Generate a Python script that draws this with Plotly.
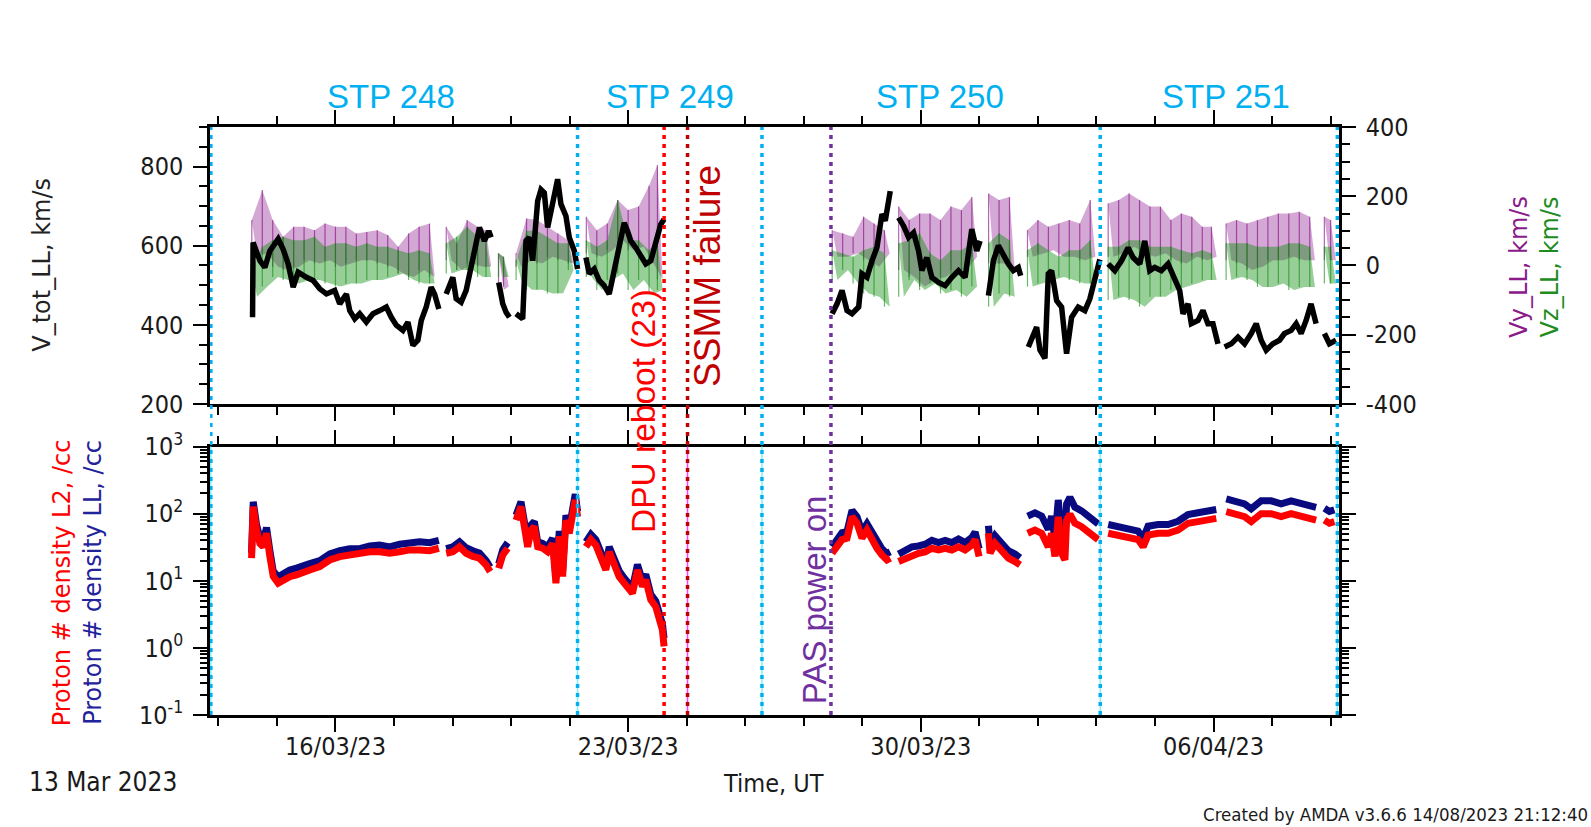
import pandas as pd
import plotly.graph_objects as go

BASE = pd.Timestamp("2023-03-13 00:00:00")
X_START, X_END = "2023-03-13 00:00", "2023-04-09 00:00"

# ---------------- data (times in days since 13 Mar 2023 00:00 UT; None = gap) ----------------
vtot_days = [1.018, 1.03, 1.193, 1.313, 1.432, 1.631, 1.750, 1.869, 1.989, 2.108, 2.307, 2.466, 2.625, 2.784,
             2.983, 3.103, 3.262, 3.341, 3.461, 3.580, 3.739, 3.898, 4.057, 4.216, 4.336, 4.455, 4.614, 4.733,
             4.853, 4.972, 5.052, 5.171, 5.290, 5.370, 5.473, None,
             5.648, 5.807, 5.887, 6.006, 6.126, 6.205, 6.325, 6.444, 6.563, 6.667, 6.722, None,
             6.905, 7.001, 7.080, 7.160, None,
             7.319, 7.478, 7.558, 7.637, 7.717, 7.836, 7.916, 7.995, 8.075, 8.194, 8.313, 8.393, 8.512, 8.592,
             8.711, 8.791, None,
             8.990, 9.069, 9.189, 9.308, 9.427, 9.547, 9.666, 9.785, 9.905, 9.984, 10.064, 10.183, 10.302,
             10.422, 10.541, 10.660, 10.780, 10.859, None,
             14.877, 14.996, 15.115, 15.234, 15.354, 15.513, 15.592, 15.712, 15.831, 15.950, 16.069, 16.149,
             16.268, None,
             16.467, 16.587, 16.706, 16.826, 16.945, 17.025, 17.144, 17.263, 17.422, 17.582, 17.741, 17.900,
             18.059, 18.218, 18.337, 18.417, None,
             18.616, 18.735, 18.854, 18.974, 19.093, 19.212, 19.332, 19.387, None,
             19.570, 19.690, 19.769, 19.849, 19.968, 20.048, 20.127, 20.247, 20.366, 20.485, 20.605, 20.764,
             20.923, 21.043, 21.162, 21.28, None,
             21.480, 21.639, 21.798, 21.957, 22.076, 22.235, 22.355, 22.474, 22.593, 22.753, 22.912, 23.071,
             23.190, 23.270, 23.389, 23.469, 23.628, 23.747, 23.866, 23.986, 24.105, None,
             24.264, 24.424, 24.583, 24.742, 24.901, 25.020, 25.139, 25.259, 25.418, 25.577, 25.696, 25.855,
             25.975, 26.094, 26.213, 26.332, 26.452, None,
             26.651, 26.770, 26.929]
vtot_vals = [419, 608, 562, 545, 587, 617, 591, 554, 495, 533, 520, 512, 491, 478,
             487, 453, 478, 436, 415, 428, 407, 428, 436, 445, 419, 399, 386, 407,
             348, 361, 411, 445, 495, 478, 440, None,
             478, 520, 466, 457, 487, 529, 587, 646, 612, 637, 621, None,
             507, 453, 432, 419, None,
             428, 415, 612, 621, 562, 713, 742, 734, 646, 705, 768, 705, 675, 621,
             587, 541, None,
             570, 529, 541, 512, 499, 478, 537, 595, 658, 637, 612, 595, 575,
             554, 562, 604, 654, 667, None,
             428, 453, 487, 436, 428, 445, 529, 520, 562, 595, 680, 663,
             738, None,
             671, 650, 621, 633, 587, 537, 570, 520, 507, 499, 520, 537,
             520, 642, 587, 612, None,
             474, 562, 600, 575, 554, 537, 545, 524, None,
             344, 373, 394, 336, 315, 529, 537, 461, 445, 327, 419, 445,
             436, 466, 512, 565, None,
             554, 537, 562, 595, 570, 554, 612, 537, 545, 537, 554, 512,
             487, 428, 453, 403, 411, 436, 403, 403, 352, None,
             344, 352, 369, 352, 378, 403, 361, 336, 352, 361, 378, 386,
             403, 378, 411, 453, 403, None,
             378, 352, 361]

# Vy / Vz scatter envelopes: sample day, upper excursion, lower excursion (km/s)
v_days = [1.0, 1.25, 1.5, 1.75, 2.0, 2.25, 2.5, 2.75, 3.0, 3.25, 3.5, 3.75, 4.0, 4.25, 4.5, 4.75, 5.0, 5.25, None,
          5.65, 5.9, 6.15, 6.4, 6.6, None,
          6.9, 7.02, None,
          7.32, 7.57, 7.82, 8.07, 8.32, 8.57, None,
          9.0, 9.25, 9.5, 9.75, 10.0, 10.25, 10.5, 10.7, None,
          14.88, 15.13, 15.38, 15.63, 15.88, 16.13, None,
          16.47, 16.72, 16.97, 17.22, 17.47, 17.72, 17.97, 18.22, None,
          18.62, 18.87, 19.12, None,
          19.55, 19.8, 20.05, 20.3, 20.55, 20.8, 21.05, None,
          21.48, 21.73, 21.98, 22.23, 22.48, 22.73, 22.98, 23.23, 23.48, 23.73, 23.95, None,
          24.3, 24.55, 24.8, 25.05, 25.3, 25.55, 25.8, 26.05, 26.3, None,
          26.65, 26.8]
vy_hi = [131, 218, 131, 83, 112, 112, 102, 121, 112, 112, 92, 97, 102, 88, 54, 92, 112, 121, None,
         112, 64, 131, 112, 102, None,
         35, 25, None,
         35, 136, 131, 112, 92, 73, None,
         141, 102, 121, 189, 160, 170, 230, 290, None,
         102, 93, 83, 141, 121, 102, None,
         170, 131, 150, 150, 131, 170, 160, 198, None,
         208, 189, 198, None,
         102, 131, 112, 121, 131, 121, 189, None,
         179, 189, 208, 189, 170, 170, 131, 150, 141, 112, 112, None,
         121, 131, 121, 131, 141, 150, 150, 155, 141, None,
         141, 131]
vy_lo = [25, 35, -4, -13, -4, 15, 6, 15, -4, 6, 15, 15, 6, -4, -23, -33, -13, -33, None,
         15, -13, 6, -4, -4, None,
         -71, -61, None,
         -4, 15, 6, 25, 15, 6, None,
         35, 25, 44, 73, 44, 54, 0, -40, None,
         25, 25, 35, 15, -4, 35, None,
         -13, -33, -61, -42, -33, -13, -13, 25, None,
         6, 6, -13, None,
         25, 35, 44, 25, 25, 15, 25, None,
         25, 35, 54, 35, 25, 35, 15, 6, 25, 15, 25, None,
         15, 6, -13, -4, 15, 15, 25, 15, 15, None,
         15, 15]
vz_hi = [-13, 54, 73, 83, 73, 73, 83, 54, 64, 64, 54, 64, 54, 54, 44, 35, 44, 35, None,
         64, 83, 112, 83, 73, None,
         35, 25, None,
         15, 100, 100, 83, 64, 64, None,
         73, 54, 73, 189, 73, 73, 44, 73, None,
         44, 35, 25, 44, 54, 35, None,
         64, 73, 93, 35, 15, 44, 44, 64, None,
         64, 93, 73, None,
         44, 64, 44, 25, 44, 44, 73, None,
         54, 54, 73, 73, 54, 54, 54, 44, 35, 44, 35, None,
         64, 64, 64, 54, 54, 54, 64, 64, 54, None,
         54, 54]
vz_lo = [-90, -61, -33, -42, -52, -42, -42, -52, -61, -52, -52, -42, -42, -33, -23, -42, -52, -52, None,
         -23, -13, -13, -33, -33, None,
         -33, -33, None,
         -42, -70, -70, -81, -80, -13, None,
         -33, -71, -42, -23, -71, -42, -81, -71, None,
         -42, -13, -52, -81, -90, -119, None,
         -90, -42, -71, -52, -81, -71, -90, -61, None,
         -119, -81, -90, None,
         -61, -52, -42, -33, -42, -52, -52, None,
         -100, -90, -100, -119, -90, -90, -71, -62, -52, -42, -42, None,
         -42, -33, -42, -62, -62, -52, -71, -62, -62, None,
         -52, -52]

# proton densities (/cc)
n_days = [0.994, 1.034, 1.114, 1.193, 1.273, 1.352, 1.432, 1.512, 1.631, 1.750, 1.909, 2.068, 2.227, 2.387,
          2.625, 2.864, 3.103, 3.341, 3.580, 3.819, 4.057, 4.296, 4.535, 4.773, 5.012, 5.251, 5.473, None,
          5.648, 5.807, 5.967, 6.126, 6.285, 6.444, 6.603, 6.699, None,
          6.905, 7.001, 7.120, None,
          7.319, 7.438, 7.518, 7.597, 7.677, 7.757, 7.836, 7.955, 8.075, 8.194, 8.273, 8.353, 8.433, 8.512,
          8.592, 8.671, 8.735, 8.791, None,
          8.990, 9.109, 9.228, 9.348, 9.467, 9.547, 9.666, 9.785, 9.905, 10.024, 10.103, 10.223, 10.342,
          10.422, 10.541, 10.660, 10.740, 10.819, 10.859, None,
          14.877, 14.996, 15.115, 15.234, 15.354, 15.473, 15.592, 15.712, 15.831, 15.950, 16.069, 16.189,
          16.268, None,
          16.467, 16.627, 16.786, 16.945, 17.104, 17.263, 17.422, 17.582, 17.741, 17.900, 18.059, 18.218,
          18.298, 18.393, None,
          18.616, 18.655, 18.775, 18.934, 19.093, 19.252, 19.372, None,
          19.554, 19.729, 19.889, 20.048, 20.127, 20.207, 20.286, 20.366, 20.446, 20.485, 20.565, 20.684,
          20.843, 21.002, 21.122, 21.241, None,
          21.480, 21.718, 21.957, 22.196, 22.315, 22.434, 22.673, 22.912, 23.150, 23.389, 23.628, 23.866,
          24.065, None,
          24.304, 24.503, 24.742, 24.901, 25.139, 25.378, 25.617, 25.855, 26.094, 26.293, 26.452, None,
          26.651, 26.770, 26.889]
n_l2 = [21.7, 127, 57, 36, 32, 51, 23, 11.6, 9.2, 10.3, 11.5, 12.2, 13.7, 14.5,
        16.3, 20.4, 22.9, 24.3, 24.3, 27, 27, 25.7, 27, 28.8, 28.8, 28, 30.5, None,
        25.7, 27, 32, 25.7, 23, 21.7, 17.2, 13.7, None,
        15.4, 24.3, 30.5, None,
        80, 127, 64, 32, 57, 64, 32, 30.5, 27, 36, 9.2, 46, 11.6, 80,
        51, 113, 160, 90, None,
        32, 41, 34, 20.4, 14.5, 27, 16.3, 11.5, 9.2, 7.3, 6.5, 14.5, 8.2,
        10.3, 5.2, 4.1, 2.9, 1.86, 1.05, None,
        25.7, 32, 41, 43, 90, 72, 43, 57, 41, 30.5, 24.3, 20.4,
        21.7, None,
        19.3, 21.7, 24.3, 25.7, 27, 30.5, 28.8, 30.5, 28.8, 32, 28.8, 34,
        41, 23, None,
        51, 25.7, 36, 27, 21.7, 19.3, 17.2, None,
        51, 57, 51, 32, 51, 23, 90, 25.7, 20.4, 80, 98, 72,
        64, 54, 46, 41, None,
        51, 48, 43, 41, 32, 48, 51, 51, 57, 72, 76, 80,
        85, None,
        107, 98, 90, 76, 100, 100, 90, 100, 90, 85, 80, None,
        80, 72, 76]
n_ll = [26, 150, 68, 44, 40, 62, 28, 14, 11.5, 13, 14.5, 15.5, 17, 18,
        20, 25, 28, 30, 30, 33, 34, 32, 35, 37, 38, 37, 40, None,
        30, 32, 38, 31, 28, 26, 20, 16, None,
        18, 29, 37, None,
        95, 150, 76, 38, 68, 76, 38, 36, 32, 43, 11, 55, 14, 95,
        61, 135, 195, 108, None,
        38, 49, 41, 25, 17.5, 32, 20, 14, 11, 8.8, 7.8, 17.5, 10,
        12.5, 6.3, 5.0, 3.6, 2.3, 1.4, None,
        32, 40, 52, 54, 112, 90, 54, 71, 51, 38, 30, 25.5,
        27, None,
        25, 28, 32, 33, 35, 40, 37, 40, 37, 42, 37, 44,
        53, 30, None,
        66, 33, 47, 35, 28, 25, 22, None,
        92, 103, 92, 58, 92, 41, 160, 46, 37, 140, 175, 125,
        110, 92, 78, 70, None,
        69, 65, 58, 55, 43, 65, 69, 69, 77, 97, 103, 108,
        115, None,
        166, 152, 140, 118, 155, 155, 140, 155, 140, 132, 124, None,
        120, 108, 114]

# event markers (days since 13 Mar 2023)
stp_boundary_days = [0.02, 8.79, 13.2, 21.29, 26.96]
stp_names = ["STP 248", "STP 249", "STP 250", "STP 251"]
stp_label_days = [4.34, 11.0, 17.46, 24.29]
dpu_reboot_day = 10.86
ssmm_failure_day = 11.42
pas_power_day = 14.85

log_major = [0.1, 1, 10, 100, 1000]
log_major_text = ["10<sup>-1</sup>", "10<sup>0</sup>", "10<sup>1</sup>", "10<sup>2</sup>", "10<sup>3</sup>"]
vel_ticks = [-400, -200, 0, 200, 400]
vel_tick_text = ["-400", "-200", "0", "200", "400"]
vtot_ticks = [200, 400, 600, 800]


def tm(d):
    return None if d is None else BASE + pd.Timedelta(days=d)


def band(days, hi, lo, half=0.125):
    xs, ys = [], []
    seg = []
    for item in list(zip(days, hi, lo)) + [(None, None, None)]:
        if item[0] is None:
            if seg:
                xs += [tm(d) for d, _, _ in seg] + [tm(d + half) for d, _, _ in reversed(seg)] + [None]
                ys += [h for _, h, _ in seg] + [l for _, _, l in reversed(seg)] + [None]
            seg = []
        else:
            seg.append(item)
    return xs, ys


def streaks(days, hi, lo):
    xs, ys = [], []
    for d, h, l in zip(days, hi, lo):
        if d is None:
            continue
        xs += [tm(d), tm(d), None]
        ys += [l, h, None]
    return xs, ys


PURPLE = "#800080"
GREEN = "#0A8A0A"
NAVY = "#0A0A80"
RED = "#FF0000"
BLUE = "#00B0F0"
TICKFONT = dict(family="DejaVu Sans Condensed, DejaVu Sans, sans-serif", size=25, color="#1a1a1a")

fig = go.Figure()

# top panel: Vy, Vz (right scale y2, bottom-edge time axis x2)
for hi, lo, col, op in [(vy_hi, vy_lo, PURPLE, 0.34), (vz_hi, vz_lo, GREEN, 0.42)]:
    bx, by = band(v_days, hi, lo)
    fig.add_trace(go.Scatter(x=bx, y=by, xaxis="x2", yaxis="y2", mode="lines", fill="toself",
                             fillcolor=col, opacity=op, line=dict(width=0), hoverinfo="skip"))
    sx, sy = streaks(v_days, hi, lo)
    fig.add_trace(go.Scatter(x=sx, y=sy, xaxis="x2", yaxis="y2", mode="lines",
                             line=dict(color=col, width=1.2), opacity=0.6, hoverinfo="skip"))

# V_tot on the left scale y3 with the top-edge time axis x3 (both overlaying the panel)
fig.add_trace(go.Scatter(x=[tm(d) for d in vtot_days], y=vtot_vals, xaxis="x3", yaxis="y3", mode="lines",
                         line=dict(color="black", width=5.5)))

# bottom panel: densities
fig.add_trace(go.Scatter(x=[tm(d) for d in n_days], y=n_ll, xaxis="x", yaxis="y", mode="lines",
                         line=dict(color=NAVY, width=7)))
fig.add_trace(go.Scatter(x=[tm(d) for d in n_days], y=n_l2, xaxis="x", yaxis="y", mode="lines",
                         line=dict(color=RED, width=7)))

# vertical event lines
shapes = []
BOT_TOP = 0.4566


def vline(day, color, width=3.5, dash="4px,5px", y0=0, y1=1):
    shapes.append(dict(type="line", xref="x", yref="paper", x0=tm(day), x1=tm(day), y0=y0, y1=y1,
                       line=dict(color=color, width=width, dash=dash), layer="above"))


for d in stp_boundary_days:
    vline(d, "#7FF0FF", width=1.5, dash="solid", y0=0, y1=BOT_TOP)
vline(ssmm_failure_day, "#FF40FF", width=1.5, dash="solid", y0=0, y1=BOT_TOP)
for d in stp_boundary_days:
    vline(d, BLUE)
vline(dpu_reboot_day, "#FF0000")
vline(ssmm_failure_day, "#C00000")
vline(pas_power_day, "#7030A0")

ARIAL = "Liberation Sans, Arial, sans-serif"
DEJAVU = "DejaVu Sans, sans-serif"


def note(x, y, text, font, angle=0, xanchor="center", yanchor="middle", xref="paper"):
    return dict(x=x, y=y, xref=xref, yref="paper", text=text, textangle=angle, showarrow=False,
                xanchor=xanchor, yanchor=yanchor, font=font)


annotations = [note(tm(d), 1.052, name, dict(family=ARIAL, size=33, color=BLUE), xref="x")
               for name, d in zip(stp_names, stp_label_days)]
annotations += [
    note(0.3835, 0.517, "DPU reboot (23)", dict(family=ARIAL, size=33.5, color="#FF0000"), -90),
    note(0.441, 0.7466, "SSMM failure", dict(family=ARIAL, size=37, color="#C00000"), -90),
    note(0.536, 0.1956, "PAS power on", dict(family=ARIAL, size=33, color="#7030A0"), -90),
    note(-0.1483, 0.765, "V_tot_LL, km/s", dict(family=DEJAVU, size=24, color="#222222"), -90),
    note(1.1594, 0.762, "Vy_LL, km/s", dict(family=DEJAVU, size=24, color="#8B1A8B"), -90),
    note(1.1864, 0.762, "Vz_LL, km/s", dict(family=DEJAVU, size=24, color="#1E8C1E"), -90),
    note(-0.1303, 0.2255, "Proton # density L2, /cc", dict(family=DEJAVU, size=24, color="#FF0000"), -90),
    note(-0.1033, 0.2255, "Proton # density LL, /cc", dict(family=DEJAVU, size=24, color="#22229A"), -90),
    note(-0.162, -0.114, "13 Mar 2023", dict(TICKFONT, size=26), xanchor="left"),
    note(0.4987, -0.116, "Time, UT", TICKFONT),
    note(1.2223, -0.170, "Created by AMDA v3.6.6 14/08/2023 21:12:40",
         dict(family="DejaVu Sans Condensed, DejaVu Sans, sans-serif", size=18.5, color="#1a1a1a"),
         xanchor="right"),
]

DAY_MS = 86400000
xcommon = dict(type="date", range=[X_START, X_END], showline=True, linecolor="black", linewidth=2.5,
               ticks="outside", ticklen=14, tickwidth=2, tickcolor="black", mirror="ticks",
               showgrid=False, zeroline=False, tick0="2023-03-16", dtick=7 * DAY_MS, tickformat="%d/%m/%y",
               tickfont=TICKFONT, ticklabelstandoff=-7,
               minor=dict(ticks="outside", ticklen=8, tickwidth=2, tickcolor="black",
                          tick0="2023-03-16", dtick=int(1.4 * DAY_MS), showgrid=False))
ycommon = dict(showline=True, linecolor="black", linewidth=2.5, ticks="outside", ticklen=14, tickwidth=2,
               tickcolor="black", showgrid=False, zeroline=False, tickfont=TICKFONT, ticklabelstandoff=5)

log_minor = [m * 10 ** e for e in (-1, 0, 1, 2) for m in range(2, 10)]

fig.update_layout(
    width=1591, height=827, margin=dict(l=210, r=252, t=127, b=112),
    plot_bgcolor="white", paper_bgcolor="white", showlegend=False,
    xaxis=dict(xcommon, domain=[0, 1], anchor="y"),
    xaxis2=dict(xcommon, domain=[0, 1], anchor="y2", matches="x", showticklabels=False),
    xaxis3=dict(xcommon, domain=[0, 1], anchor="y3", overlaying="x2", side="top", matches="x",
                showticklabels=False),
    yaxis=dict(ycommon, domain=[0, BOT_TOP], anchor="x", type="log", range=[-1, 3], mirror="ticks",
               tickmode="array", tickvals=log_major, ticktext=log_major_text,
               minor=dict(ticks="outside", ticklen=7, tickwidth=2, tickcolor="black",
                          tickmode="array", tickvals=log_minor)),
    yaxis2=dict(ycommon, domain=[0.529, 1], anchor="x2", side="right", range=[-400, 400],
                tickmode="array", tickvals=vel_ticks, ticktext=vel_tick_text,
                minor=dict(ticks="outside", ticklen=8, tickwidth=2, tickcolor="black", dtick=50, tick0=0)),
    yaxis3=dict(ycommon, domain=[0.529, 1], overlaying="y2", anchor="x3", side="left", range=[200, 900],
                tickmode="array", tickvals=vtot_ticks,
                minor=dict(ticks="outside", ticklen=8, tickwidth=2, tickcolor="black", dtick=50, tick0=200)),
    shapes=shapes, annotations=annotations,
)

fig.write_html("out.html", config={"displayModeBar": False},
               post_script="document.body.style.margin='0';")
